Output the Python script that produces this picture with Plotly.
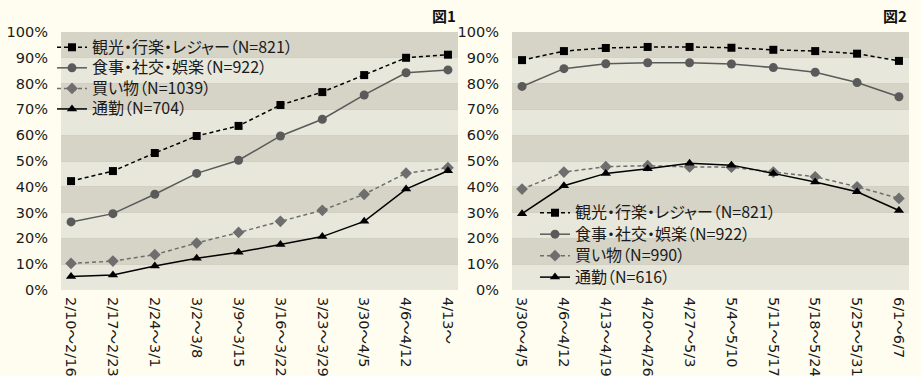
import plotly.graph_objects as go

# ---- data ----
weeks1 = ["2/10～2/16", "2/17～2/23", "2/24～3/1", "3/2～3/8", "3/9～3/15",
          "3/16～3/22", "3/23～3/29", "3/30～4/5", "4/6～4/12", "4/13～"]
weeks2 = ["3/30～4/5", "4/6～4/12", "4/13～4/19", "4/20～4/26", "4/27～5/3",
          "5/4～5/10", "5/11～5/17", "5/18～5/24", "5/25～5/31", "6/1～6/7"]

kanko1 = [42.2, 46.1, 53.1, 59.7, 63.6, 71.7, 76.7, 83.3, 90.0, 91.2]
shokuji1 = [26.4, 29.6, 37.1, 45.2, 50.3, 59.7, 66.2, 75.6, 84.2, 85.3]
kaimono1 = [10.3, 11.2, 13.7, 18.2, 22.3, 26.6, 30.9, 37.1, 45.3, 47.4]
tsukin1 = [5.2, 5.8, 9.3, 12.3, 14.6, 17.6, 20.7, 26.6, 39.1, 46.2]

kanko2 = [89.1, 92.6, 93.8, 94.2, 94.2, 93.9, 93.1, 92.6, 91.6, 88.8]
shokuji2 = [78.9, 85.8, 87.7, 88.1, 88.1, 87.6, 86.2, 84.4, 80.4, 74.9]
kaimono2 = [39.1, 45.7, 47.8, 48.2, 47.7, 47.6, 45.7, 43.9, 40.0, 35.5]
tsukin2 = [29.6, 40.4, 45.2, 47.0, 49.1, 48.4, 45.2, 41.9, 38.1, 30.8]

names1 = ["観光・行楽・レジャー（N=821）", "食事・社交・娯楽（N=922）", "買い物（N=1039）", "通勤（N=704）"]
names2 = ["観光・行楽・レジャー（N=821）", "食事・社交・娯楽（N=922）", "買い物（N=990）", "通勤（N=616）"]
yticks = list(range(0, 101, 10))

# ---- styles ----
FONT = "Noto Sans CJK JP"
TICKFONT = "DejaVu Sans, Noto Sans CJK JP"
TXT = "#1a1a1a"
styles = [
    dict(color="#000000", dash="4px,3px", symbol="square", size=8),
    dict(color="#5a5a5a", dash="solid", symbol="circle", size=9),
    dict(color="#6e6e6e", dash="4px,3px", symbol="diamond", size=9),
    dict(color="#000000", dash="solid", symbol="triangle-up", size=9),
]

fig = go.Figure()

def add_series(xs, series, names, xa, ya, legend):
    for vals, nm, st in zip(series, names, styles):
        fig.add_trace(go.Scatter(
            x=list(range(len(xs))), y=vals,
            name=f"<span style='font-size:16px'>{nm}</span>",
            mode="lines+markers",
            xaxis=xa, yaxis=ya, legend=legend,
            line=dict(color=st["color"], width=1.5, dash=st["dash"]),
            marker=dict(symbol=st["symbol"], size=st["size"], color=st["color"]),
            cliponaxis=False,
        ))

add_series(weeks1, [kanko1, shokuji1, kaimono1, tsukin1], names1, "x", "y", "legend")
add_series(weeks2, [kanko2, shokuji2, kaimono2, tsukin2], names2, "x2", "y2", "legend2")

W, H = 921, 376
ydom = [(H - 290) / H, (H - 32) / H]

xcommon = dict(range=[-0.24, 9.24], tickmode="array", tickvals=list(range(10)),
               tickangle=90, showgrid=False, zeroline=False, showline=False,
               tickfont=dict(family=TICKFONT, size=14.5, color=TXT), ticks="",
               automargin=False, ticklabelstandoff=6)
ycommon = dict(range=[0, 100], tickmode="array", tickvals=yticks,
               ticktext=[f"{v}%" for v in yticks], showgrid=True,
               gridcolor="#d2d0c2", gridwidth=1, zeroline=False, showline=False,
               tickfont=dict(family=TICKFONT, size=14.5, color=TXT), ticks="",
               automargin=False, ticklabelstandoff=12)

legend_common = dict(xanchor="left", yanchor="top", bgcolor="rgba(0,0,0,0)",
                     tracegroupgap=0, itemwidth=30)

fig.update_layout(
    width=W, height=H, autosize=False,
    margin=dict(l=0, r=0, t=0, b=0, autoexpand=False),
    paper_bgcolor="#fffdf0", plot_bgcolor="#e8e7db",
    font=dict(family=FONT, size=15, color=TXT),
    xaxis=dict(domain=[61 / W, 458 / W], ticktext=weeks1, anchor="y", **xcommon),
    yaxis=dict(domain=ydom, anchor="x", **ycommon),
    xaxis2=dict(domain=[512 / W, 909 / W], ticktext=weeks2, anchor="y2", **xcommon),
    yaxis2=dict(domain=ydom, anchor="x2", **ycommon),
    legend=dict(x=52 / W, y=(H - 32) / H, font=dict(family=FONT, size=13.5, color=TXT),
                **legend_common),
    legend2=dict(x=535 / W, y=(H - 197) / H, font=dict(family=FONT, size=14.2, color=TXT),
                 **legend_common),
    showlegend=True,
)

# dark bands
shapes = []
for xr, yr in [("x domain", "y"), ("x2 domain", "y2")]:
    for lo in [10, 30, 50, 70, 90]:
        shapes.append(dict(type="rect", xref=xr, yref=yr, x0=0, x1=1, y0=lo, y1=lo + 10,
                           fillcolor="#d6d4c6", line=dict(width=0), layer="below"))
fig.update_layout(shapes=shapes)

fig.add_annotation(text="<b>図1</b>", x=458 / W, y=(H - 16) / H, xref="paper", yref="paper",
                   xanchor="right", yanchor="middle", showarrow=False,
                   font=dict(family=FONT, size=15, color="#111"))
fig.add_annotation(text="<b>図2</b>", x=909 / W, y=(H - 16) / H, xref="paper", yref="paper",
                   xanchor="right", yanchor="middle", showarrow=False,
                   font=dict(family=FONT, size=15, color="#111"))

post = """
document.body.style.margin = '0';
var s = document.createElement('style');
s.textContent = '.infolayer text, .infolayer tspan, .legend text, .legend tspan, '
  + '[class^=legend] text, [class^=legend] tspan {font-feature-settings: "palt" 1 !important;}';
document.head.appendChild(s);
"""
fig.write_html("out.html", post_script=post, config={"displayModeBar": False})
